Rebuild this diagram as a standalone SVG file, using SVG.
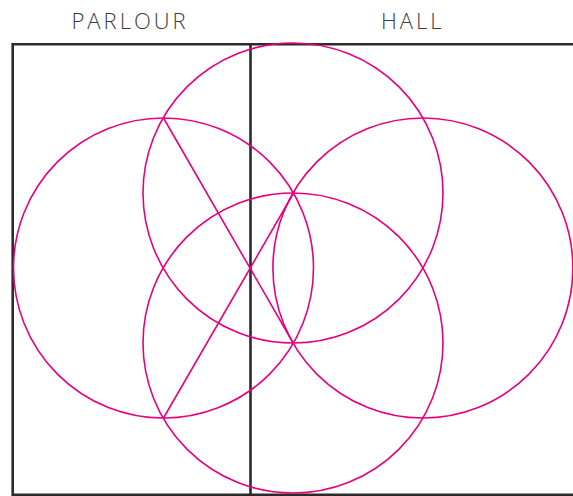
<svg xmlns="http://www.w3.org/2000/svg" width="573" height="496" viewBox="0 0 573 496">
<style>
.lbl{font-family:"Open Sans","Liberation Sans",sans-serif;font-weight:300;font-size:22px;letter-spacing:3px;fill:#3a3a3a}
.wall{fill:none;stroke:#2b2b2b;stroke-width:2.6}
.c{fill:none;stroke:#E6007E;stroke-width:1.6}
</style>
<rect width="573" height="496" fill="#fff"/>
<g id="frame">
<path class="wall" d="M580 44.3 H12.7 V494.8 H580"/>
<line class="wall" x1="250.5" y1="44.3" x2="250.5" y2="494.8"/>
</g>
<g id="circle-top"><circle class="c" cx="293" cy="193" r="150"/></g>
<g id="circle-bottom"><circle class="c" cx="293" cy="343" r="150"/></g>
<g id="circle-left"><circle class="c" cx="163.5" cy="268" r="150"/></g>
<g id="circle-right"><circle class="c" cx="422.9" cy="268" r="150"/></g>
<g id="connectors">
<line class="c" x1="163.8" y1="118.5" x2="293.2" y2="343"/>
<line class="c" x1="163.8" y1="417.5" x2="293.6" y2="193"/>
</g>
<g id="labels">
<text class="lbl" x="71.5" y="29">PARLOUR</text>
<text class="lbl" x="381" y="29">HALL</text>
</g>
</svg>
